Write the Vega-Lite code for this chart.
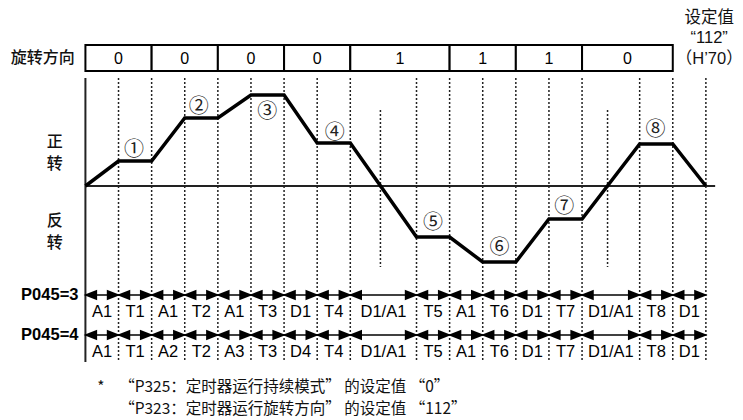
{
  "$schema": "https://vega.github.io/schema/vega-lite/v6.json",
  "width": 743,
  "height": 420,
  "autosize": {"type": "fit", "contains": "padding"},
  "padding": 0,
  "background": "white",
  "config": {"view": {"stroke": null}},
  "datasets": {
    "grid": [
      {"t": 1, "v0": 108, "v1": -176}, {"t": 2, "v0": 108, "v1": -176}, {"t": 3, "v0": 108, "v1": -176},
      {"t": 4, "v0": 108, "v1": -176}, {"t": 5, "v0": 108, "v1": -176}, {"t": 6, "v0": 108, "v1": -176},
      {"t": 7, "v0": 108, "v1": -176}, {"t": 8, "v0": 108, "v1": -176}, {"t": 10, "v0": 108, "v1": -176},
      {"t": 11, "v0": 108, "v1": -176}, {"t": 12, "v0": 108, "v1": -176}, {"t": 13, "v0": 108, "v1": -176},
      {"t": 14, "v0": 108, "v1": -176}, {"t": 15, "v0": 108, "v1": -176}, {"t": 16.74, "v0": 108, "v1": -176},
      {"t": 17.74, "v0": 108, "v1": -176}, {"t": 18.74, "v0": 108, "v1": -176},
      {"t": 8.91, "v0": 76, "v1": -81}, {"t": 15.77, "v0": 76, "v1": -81}
    ],
    "frame": [
      {"t0": 0, "t1": 0, "v0": 108, "v1": -176},
      {"t0": 0, "t1": 19.02, "v0": 0, "v1": 0}
    ],
    "speed": [
      {"t": 0, "v": 0}, {"t": 1, "v": 25}, {"t": 2, "v": 25}, {"t": 3, "v": 68}, {"t": 4, "v": 68},
      {"t": 5, "v": 91}, {"t": 6, "v": 91}, {"t": 7, "v": 43}, {"t": 8, "v": 43}, {"t": 10, "v": -51},
      {"t": 11, "v": -51}, {"t": 12, "v": -76}, {"t": 13, "v": -76}, {"t": 14, "v": -33}, {"t": 15, "v": -33},
      {"t": 16.74, "v": 42}, {"t": 17.74, "v": 42}, {"t": 18.74, "v": 0}
    ],
    "cells": [
      {"t0": 0, "t1": 2, "tc": 1, "val": "0"},
      {"t0": 2, "t1": 4, "tc": 3, "val": "0"},
      {"t0": 4, "t1": 6, "tc": 5, "val": "0"},
      {"t0": 6, "t1": 8, "tc": 7, "val": "0"},
      {"t0": 8, "t1": 11, "tc": 9.5, "val": "1"},
      {"t0": 11, "t1": 13, "tc": 12, "val": "1"},
      {"t0": 13, "t1": 15, "tc": 14, "val": "1"},
      {"t0": 15, "t1": 17.74, "tc": 16.37, "val": "0"}
    ],
    "segs": [
      {"row": "3", "va": -109, "vl": -126, "t0": 0, "t1": 1, "tc": 0.5, "lab": "A1"},
      {"row": "3", "va": -109, "vl": -126, "t0": 1, "t1": 2, "tc": 1.5, "lab": "T1"},
      {"row": "3", "va": -109, "vl": -126, "t0": 2, "t1": 3, "tc": 2.5, "lab": "A1"},
      {"row": "3", "va": -109, "vl": -126, "t0": 3, "t1": 4, "tc": 3.5, "lab": "T2"},
      {"row": "3", "va": -109, "vl": -126, "t0": 4, "t1": 5, "tc": 4.5, "lab": "A1"},
      {"row": "3", "va": -109, "vl": -126, "t0": 5, "t1": 6, "tc": 5.5, "lab": "T3"},
      {"row": "3", "va": -109, "vl": -126, "t0": 6, "t1": 7, "tc": 6.5, "lab": "D1"},
      {"row": "3", "va": -109, "vl": -126, "t0": 7, "t1": 8, "tc": 7.5, "lab": "T4"},
      {"row": "3", "va": -109, "vl": -126, "t0": 8, "t1": 10, "tc": 9, "lab": "D1/A1"},
      {"row": "3", "va": -109, "vl": -126, "t0": 10, "t1": 11, "tc": 10.5, "lab": "T5"},
      {"row": "3", "va": -109, "vl": -126, "t0": 11, "t1": 12, "tc": 11.5, "lab": "A1"},
      {"row": "3", "va": -109, "vl": -126, "t0": 12, "t1": 13, "tc": 12.5, "lab": "T6"},
      {"row": "3", "va": -109, "vl": -126, "t0": 13, "t1": 14, "tc": 13.5, "lab": "D1"},
      {"row": "3", "va": -109, "vl": -126, "t0": 14, "t1": 15, "tc": 14.5, "lab": "T7"},
      {"row": "3", "va": -109, "vl": -126, "t0": 15, "t1": 16.74, "tc": 15.87, "lab": "D1/A1"},
      {"row": "3", "va": -109, "vl": -126, "t0": 16.74, "t1": 17.74, "tc": 17.24, "lab": "T8"},
      {"row": "3", "va": -109, "vl": -126, "t0": 17.74, "t1": 18.74, "tc": 18.24, "lab": "D1"},
      {"row": "4", "va": -149, "vl": -166, "t0": 0, "t1": 1, "tc": 0.5, "lab": "A1"},
      {"row": "4", "va": -149, "vl": -166, "t0": 1, "t1": 2, "tc": 1.5, "lab": "T1"},
      {"row": "4", "va": -149, "vl": -166, "t0": 2, "t1": 3, "tc": 2.5, "lab": "A2"},
      {"row": "4", "va": -149, "vl": -166, "t0": 3, "t1": 4, "tc": 3.5, "lab": "T2"},
      {"row": "4", "va": -149, "vl": -166, "t0": 4, "t1": 5, "tc": 4.5, "lab": "A3"},
      {"row": "4", "va": -149, "vl": -166, "t0": 5, "t1": 6, "tc": 5.5, "lab": "T3"},
      {"row": "4", "va": -149, "vl": -166, "t0": 6, "t1": 7, "tc": 6.5, "lab": "D4"},
      {"row": "4", "va": -149, "vl": -166, "t0": 7, "t1": 8, "tc": 7.5, "lab": "T4"},
      {"row": "4", "va": -149, "vl": -166, "t0": 8, "t1": 10, "tc": 9, "lab": "D1/A1"},
      {"row": "4", "va": -149, "vl": -166, "t0": 10, "t1": 11, "tc": 10.5, "lab": "T5"},
      {"row": "4", "va": -149, "vl": -166, "t0": 11, "t1": 12, "tc": 11.5, "lab": "A1"},
      {"row": "4", "va": -149, "vl": -166, "t0": 12, "t1": 13, "tc": 12.5, "lab": "T6"},
      {"row": "4", "va": -149, "vl": -166, "t0": 13, "t1": 14, "tc": 13.5, "lab": "D1"},
      {"row": "4", "va": -149, "vl": -166, "t0": 14, "t1": 15, "tc": 14.5, "lab": "T7"},
      {"row": "4", "va": -149, "vl": -166, "t0": 15, "t1": 16.74, "tc": 15.87, "lab": "D1/A1"},
      {"row": "4", "va": -149, "vl": -166, "t0": 16.74, "t1": 17.74, "tc": 17.24, "lab": "T8"},
      {"row": "4", "va": -149, "vl": -166, "t0": 17.74, "t1": 18.74, "tc": 18.24, "lab": "D1"}
    ],
    "circled": [
      {"t": 1.47, "v": 36, "n": "①"}, {"t": 3.42, "v": 79, "n": "②"}, {"t": 5.49, "v": 74, "n": "③"},
      {"t": 7.53, "v": 53, "n": "④"}, {"t": 10.5, "v": -37, "n": "⑤"}, {"t": 12.51, "v": -62, "n": "⑥"},
      {"t": 14.46, "v": -21, "n": "⑦"}, {"t": 17.22, "v": 56, "n": "⑧"}
    ],
    "cjk": [
      {"t": -1.29, "v": 128, "s": "旋转方向"},
      {"t": -0.93, "v": 44, "s": "正"}, {"t": -0.93, "v": 22, "s": "转"},
      {"t": -0.93, "v": -35, "s": "反"}, {"t": -0.93, "v": -57, "s": "转"}
    ],
    "topright": [
      {"t": 18.84, "v": 168, "s": "设定值"}, {"t": 18.84, "v": 148, "s": "“112”"}, {"t": 18.84, "v": 127, "s": "（H’70）"}
    ],
    "plabels": [
      {"t": -0.21, "v": -109, "s": "P045=3"},
      {"t": -0.21, "v": -149, "s": "P045=4"}
    ],
    "notes": [
      {"t": 0.36, "v": -201, "s": "*"},
      {"t": 1.02, "v": -201, "s": "“P325：定时器运行持续模式” 的设定值 “0”"},
      {"t": 1.02, "v": -223, "s": "“P323：定时器运行旋转方向” 的设定值 “112”"}
    ]
  },
  "layer": [
    {
      "data": {"name": "grid"},
      "mark": {"type": "rule", "strokeDash": [2, 2], "strokeWidth": 1.5, "color": "#222"},
      "encoding": {
        "x": {"field": "t", "type": "quantitative", "scale": {"domain": [-2.58, 19.71], "nice": false, "zero": false}, "axis": null},
        "y": {"field": "v0", "type": "quantitative", "scale": {"domain": [-234, 186], "nice": false, "zero": false}, "axis": null},
        "y2": {"field": "v1"}
      }
    },
    {
      "data": {"name": "frame"},
      "mark": {"type": "rule", "strokeWidth": 2, "color": "#222"},
      "encoding": {
        "x": {"field": "t0", "type": "quantitative", "scale": {"domain": [-2.58, 19.71], "nice": false, "zero": false}, "axis": null},
        "x2": {"field": "t1"},
        "y": {"field": "v0", "type": "quantitative", "scale": {"domain": [-234, 186], "nice": false, "zero": false}, "axis": null},
        "y2": {"field": "v1"}
      }
    },
    {
      "data": {"name": "speed"},
      "mark": {"type": "line", "strokeWidth": 3.5, "color": "#000", "strokeJoin": "miter"},
      "encoding": {
        "x": {"field": "t", "type": "quantitative", "scale": {"domain": [-2.58, 19.71], "nice": false, "zero": false}, "axis": null},
        "y": {"field": "v", "type": "quantitative", "scale": {"domain": [-234, 186], "nice": false, "zero": false}, "axis": null}
      }
    },
    {
      "data": {"name": "cells"},
      "mark": {"type": "rect", "fill": "white", "stroke": "#000", "strokeWidth": 2},
      "encoding": {
        "x": {"field": "t0", "type": "quantitative", "scale": {"domain": [-2.58, 19.71], "nice": false, "zero": false}, "axis": null},
        "x2": {"field": "t1"},
        "y": {"datum": 141, "type": "quantitative", "scale": {"domain": [-234, 186], "nice": false, "zero": false}, "axis": null},
        "y2": {"datum": 115}
      }
    },
    {
      "data": {"name": "cells"},
      "mark": {"type": "text", "font": "Liberation Sans", "fontSize": 16, "color": "#000", "baseline": "middle", "align": "center"},
      "encoding": {
        "x": {"field": "tc", "type": "quantitative", "scale": {"domain": [-2.58, 19.71], "nice": false, "zero": false}, "axis": null},
        "y": {"datum": 127, "type": "quantitative", "scale": {"domain": [-234, 186], "nice": false, "zero": false}, "axis": null},
        "text": {"field": "val"}
      }
    },
    {
      "data": {"name": "segs"},
      "mark": {"type": "rule", "strokeWidth": 1.5, "color": "#000"},
      "encoding": {
        "x": {"field": "t0", "type": "quantitative", "scale": {"domain": [-2.58, 19.71], "nice": false, "zero": false}, "axis": null},
        "x2": {"field": "t1"},
        "y": {"field": "va", "type": "quantitative", "scale": {"domain": [-234, 186], "nice": false, "zero": false}, "axis": null}
      }
    },
    {
      "data": {"name": "segs"},
      "mark": {"type": "point", "shape": "M 1 -0.8 L -1 0 L 1 0.8 Z", "filled": true, "size": 180, "color": "#000", "opacity": 1, "strokeWidth": 0, "xOffset": 5},
      "encoding": {
        "x": {"field": "t0", "type": "quantitative", "scale": {"domain": [-2.58, 19.71], "nice": false, "zero": false}, "axis": null},
        "y": {"field": "va", "type": "quantitative", "scale": {"domain": [-234, 186], "nice": false, "zero": false}, "axis": null}
      }
    },
    {
      "data": {"name": "segs"},
      "mark": {"type": "point", "shape": "M -1 -0.8 L 1 0 L -1 0.8 Z", "filled": true, "size": 180, "color": "#000", "opacity": 1, "strokeWidth": 0, "xOffset": -5},
      "encoding": {
        "x": {"field": "t1", "type": "quantitative", "scale": {"domain": [-2.58, 19.71], "nice": false, "zero": false}, "axis": null},
        "y": {"field": "va", "type": "quantitative", "scale": {"domain": [-234, 186], "nice": false, "zero": false}, "axis": null}
      }
    },
    {
      "data": {"name": "segs"},
      "mark": {"type": "text", "font": "Liberation Sans", "fontSize": 16.5, "color": "#000", "baseline": "middle", "align": "center"},
      "encoding": {
        "x": {"field": "tc", "type": "quantitative", "scale": {"domain": [-2.58, 19.71], "nice": false, "zero": false}, "axis": null},
        "y": {"field": "vl", "type": "quantitative", "scale": {"domain": [-234, 186], "nice": false, "zero": false}, "axis": null},
        "text": {"field": "lab"}
      }
    },
    {
      "data": {"name": "circled"},
      "mark": {"type": "text", "font": "Noto Sans CJK SC", "fontSize": 20, "color": "#222", "baseline": "middle", "align": "center"},
      "encoding": {
        "x": {"field": "t", "type": "quantitative", "scale": {"domain": [-2.58, 19.71], "nice": false, "zero": false}, "axis": null},
        "y": {"field": "v", "type": "quantitative", "scale": {"domain": [-234, 186], "nice": false, "zero": false}, "axis": null},
        "text": {"field": "n"}
      }
    },
    {
      "data": {"name": "cjk"},
      "mark": {"type": "text", "font": "Noto Sans CJK SC", "fontSize": 16, "fontWeight": 500, "color": "#111", "baseline": "middle", "align": "center"},
      "encoding": {
        "x": {"field": "t", "type": "quantitative", "scale": {"domain": [-2.58, 19.71], "nice": false, "zero": false}, "axis": null},
        "y": {"field": "v", "type": "quantitative", "scale": {"domain": [-234, 186], "nice": false, "zero": false}, "axis": null},
        "text": {"field": "s"}
      }
    },
    {
      "data": {"name": "topright"},
      "mark": {"type": "text", "font": "Liberation Sans, Noto Sans CJK SC", "fontSize": 16.5, "color": "#111", "baseline": "middle", "align": "center"},
      "encoding": {
        "x": {"field": "t", "type": "quantitative", "scale": {"domain": [-2.58, 19.71], "nice": false, "zero": false}, "axis": null},
        "y": {"field": "v", "type": "quantitative", "scale": {"domain": [-234, 186], "nice": false, "zero": false}, "axis": null},
        "text": {"field": "s"}
      }
    },
    {
      "data": {"name": "plabels"},
      "mark": {"type": "text", "font": "Liberation Sans", "fontSize": 16.5, "fontWeight": "bold", "color": "#000", "baseline": "middle", "align": "right"},
      "encoding": {
        "x": {"field": "t", "type": "quantitative", "scale": {"domain": [-2.58, 19.71], "nice": false, "zero": false}, "axis": null},
        "y": {"field": "v", "type": "quantitative", "scale": {"domain": [-234, 186], "nice": false, "zero": false}, "axis": null},
        "text": {"field": "s"}
      }
    },
    {
      "data": {"name": "notes"},
      "mark": {"type": "text", "font": "Noto Sans CJK SC", "fontSize": 15.5, "color": "#111", "baseline": "middle", "align": "left"},
      "encoding": {
        "x": {"field": "t", "type": "quantitative", "scale": {"domain": [-2.58, 19.71], "nice": false, "zero": false}, "axis": null},
        "y": {"field": "v", "type": "quantitative", "scale": {"domain": [-234, 186], "nice": false, "zero": false}, "axis": null},
        "text": {"field": "s"}
      }
    }
  ]
}
